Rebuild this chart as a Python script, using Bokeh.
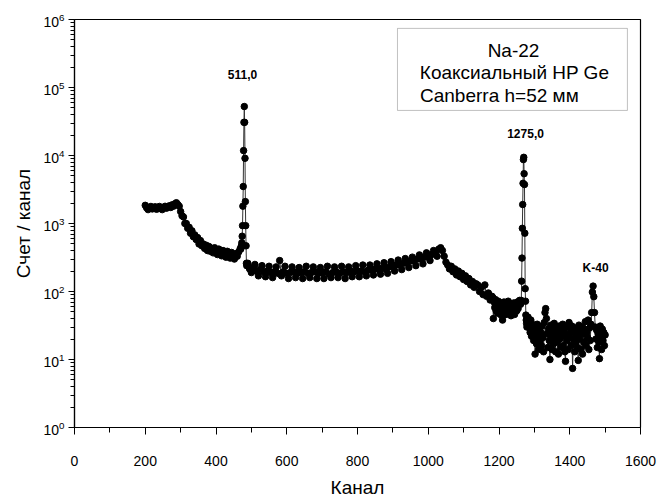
from bokeh.plotting import figure
from bokeh.models import Range1d, FixedTicker, LogTickFormatter, BoxAnnotation, Label, ColumnDataSource
from bokeh.embed import file_html
from bokeh.resources import INLINE

# ---- data ----
# segment 1: channels 200..468, step 4
seg1_start, seg1_step = 200, 4
seg1_counts = [1850, 1700, 1600, 1720, 1780, 1640, 1700, 1760, 1620, 1690, 1780, 1650, 1600, 1720, 1790, 1680, 1760, 1820,
               1720, 1880, 1800, 1950, 2020, 1900,
               1800, 1500, 1300, 1250, 1000, 1000, 850, 880, 720, 780, 640, 680,
               580, 620, 500, 560, 470, 500, 430, 480, 400, 460, 390, 430, 370, 440,
               390, 350, 420, 375, 335, 400, 360, 320, 390, 345, 310, 375, 330, 300, 360, 330, 380, 420]
# peak 511 keV: channels 470..488, step 1
peak1_start, peak1_step = 470, 1
peak1_counts = [420, 450, 470, 520, 650, 930, 1800, 3500, 11800, 30700, 52500, 30700, 9100, 2100, 930, 470, 260, 240, 250]
# segment 2: channels 490..1180, step 5
seg2_start, seg2_step = 490, 5
seg2_counts = [260, 215, 190, 225, 250, 200, 170, 210, 240, 195,
               165, 200, 235, 190, 160, 195, 230, 185, 285, 170,
               195, 235, 185, 155, 190, 230, 195, 160, 185, 225,
               190, 155, 195, 235, 185, 160, 190, 230, 195, 155,
               185, 225, 190, 155, 195, 235, 180, 160, 190, 230,
               195, 160, 185, 235, 195, 155, 190, 230, 200, 165,
               195, 240, 200, 165, 200, 245, 195, 170, 205, 245,
               210, 175, 215, 255, 210, 180, 220, 265, 215, 185,
               230, 275, 235, 200, 245, 290, 250, 210, 260, 305,
               265, 225, 280, 320, 285, 240, 300, 345, 300, 255,
               320, 370, 330, 285, 350, 400, 365, 330, 420, 440,
               400, 330, 270, 245, 215, 235, 195, 215, 175, 200,
               165, 185, 150, 170, 140, 155, 125, 140, 115, 130,
               125, 100, 115, 90, 125, 85, 95, 75, 85]
# segment 2b: channels 1182..1260, step 2
seg2b_start, seg2b_step = 1182, 2
seg2b_counts = [82, 40, 70, 58, 76, 52, 66, 48, 72, 60,
                55, 68, 45, 62, 38, 58, 70, 50, 64, 46,
                60, 52, 72, 47, 58, 66, 44, 55, 62, 50,
                68, 46, 58, 64, 52, 70, 56, 66, 74, 68]
# peak 1275 keV: channels 1261..1280, step 1
peak2_start, peak2_step = 1261, 1
peak2_counts = [65, 70, 74, 142, 310, 850, 1900, 3900, 8700, 9400, 5400, 3740, 720, 110, 72, 45, 38, 34, 30, 32]
# segment 3: channels 1282..1500, step 2
seg3_start, seg3_step = 1282, 2
seg3_counts = [42, 30, 36, 25, 38, 22, 33, 27, 19, 30,
               12, 26, 17, 33, 22, 14, 29, 19, 25, 16,
               31, 21, 13, 35, 49, 56, 40, 24, 15, 28,
               19, 10, 32, 23, 14, 27, 17, 34, 21, 13,
               29, 18, 24, 12, 31, 20, 15, 27, 22, 33,
               16, 25, 13, 9.4, 30, 19, 23, 14, 35, 21,
               27, 16, 31, 7.4, 20, 25, 13, 29, 18, 23,
               15, 9.7, 32, 20, 26, 14, 30, 12, 24, 18,
               28, 36, 16, 25, 21, 38, 14, 29, 19, 33,
               49, 98, 120, 84, 49, 30, 20, 27, 15, 24,
               18, 10.3, 31, 22, 14, 28, 19, 25, 16, 23]

x_ticks = [0, 200, 400, 600, 800, 1000, 1200, 1400, 1600]
x_minor = [100, 300, 500, 700, 900, 1100, 1300, 1500]
y_ticks = [1, 10, 100, 1000, 10000, 100000, 1000000]

legend_lines = ["Na-22", "Коаксиальный HP Ge", "Canberra h=52 мм"]
peak_labels = ["511,0", "1275,0", "K-40"]

# ---- assemble ----
channels, counts = [], []
for start, step, vals in [(seg1_start, seg1_step, seg1_counts), (peak1_start, peak1_step, peak1_counts),
                          (seg2_start, seg2_step, seg2_counts), (seg2b_start, seg2b_step, seg2b_counts),
                          (peak2_start, peak2_step, peak2_counts), (seg3_start, seg3_step, seg3_counts)]:
    for i, v in enumerate(vals):
        channels.append(start + i * step)
        counts.append(v)
src = ColumnDataSource(dict(x=channels, y=counts))

FONT = "Liberation Sans"
p = figure(width=663, height=500, y_axis_type="log", output_backend="svg", toolbar_location=None,
           x_range=Range1d(0, 1600), y_range=Range1d(1, 1e6),
           min_border_left=74, min_border_right=23, min_border_top=19, min_border_bottom=73)
p.xgrid.visible = False
p.ygrid.visible = False
p.outline_line_color = "black"
p.outline_line_width = 1.2
p.background_fill_color = "white"
p.border_fill_color = "white"

p.line("x", "y", source=src, line_color="#333333", line_width=1)
p.scatter("x", "y", source=src, size=6.5, fill_color="black", line_color="black")

p.xaxis.ticker = FixedTicker(ticks=x_ticks, minor_ticks=x_minor)
y_minor = [k * t for t in y_ticks[:-1] for k in range(2, 10)]
p.yaxis.ticker = FixedTicker(ticks=y_ticks, minor_ticks=y_minor)
p.yaxis.formatter = LogTickFormatter()

for ax in (p.xaxis[0], p.yaxis[0]):
    ax.axis_line_color = "black"
    ax.axis_line_width = 1.2
    ax.major_tick_in = 0
    ax.minor_tick_in = 0
    ax.major_tick_line_color = "black"
    ax.minor_tick_line_color = "black"
    ax.major_label_text_font = FONT
    ax.major_label_text_font_size = "14px"
    ax.major_label_text_color = "black"
    ax.axis_label_text_font = FONT
    ax.axis_label_text_font_size = "19px"
    ax.axis_label_text_font_style = "normal"
    ax.axis_label_text_color = "black"

p.xaxis.major_tick_out = 7
p.xaxis.minor_tick_out = 5
p.xaxis.major_label_standoff = 21
p.xaxis.axis_label = "Канал"
p.xaxis.axis_label_standoff = 8
p.yaxis.major_tick_out = 6
p.yaxis.minor_tick_out = 4
p.yaxis.major_label_standoff = 4
p.yaxis.axis_label = "Счет / канал"
p.yaxis.axis_label_standoff = 6

# legend-like text box
box = BoxAnnotation(left=913, right=1563, top=7.4e5, bottom=4.6e4, fill_alpha=0,
                    line_color="#333333", line_width=1)
p.add_layout(box)
for txt, xx, yy in zip(legend_lines, [1241, 1244, 1201], [3.5e5, 1.66e5, 7.6e4]):
    p.add_layout(Label(x=xx, y=yy, text=txt, text_font=FONT, text_font_size="19px",
                       text_align="center", text_baseline="middle", text_color="black"))

for txt, xx, yy in zip(peak_labels, [475, 1275, 1473], [1.55e5, 2.1e4, 218]):
    p.add_layout(Label(x=xx, y=yy, text=txt, text_font=FONT, text_font_size="12px",
                       text_font_style="bold", text_align="center", text_baseline="middle",
                       text_color="black"))

open("out.html", "w").write(file_html(p, INLINE))
